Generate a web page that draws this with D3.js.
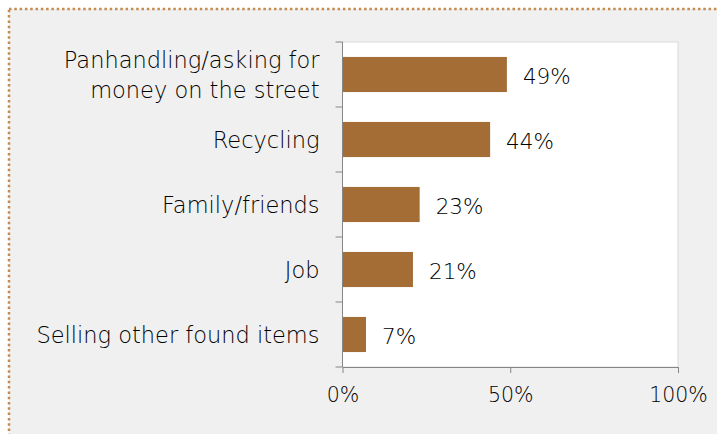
<!DOCTYPE html>
<html>
<head>
<meta charset="utf-8">
<script src="https://cdn.jsdelivr.net/npm/d3@7"></script>
<style>
  html, body { margin: 0; padding: 0; background: #fff; overflow: hidden; }
  svg { display: block; font-family: 'DejaVu Sans', sans-serif; font-weight: 300; }
</style>
</head>
<body>
<div class="chart"></div>
<script>
// chart data
const categories = [
  ['Panhandling/asking for', 'money on the street'],
  ['Recycling'],
  ['Family/friends'],
  ['Job'],
  ['Selling other found items']
];
const values = [49, 44, 23, 21, 7];
const ticks = [0, 50, 100];

// svg parameters
const w = 717;
const h = 434;
const plot = { left: 342.5, right: 678, top: 42, bottom: 367 };
const textColor = '#000';

const svg = d3.select('.chart')
  .append('svg')
  .attr('width', w)
  .attr('height', h);

// outer frame (right and bottom edges fall outside the picture)
svg.append('rect')
  .attr('x', 9).attr('y', 9)
  .attr('width', w + 60).attr('height', h + 60)
  .attr('fill', '#f0f0f0')
  .attr('stroke', '#c48a4f')
  .attr('stroke-width', 2.5)
  .attr('stroke-dasharray', '2.5 2.8');

// plot area
svg.append('rect')
  .attr('x', plot.left).attr('y', plot.top)
  .attr('width', plot.right - plot.left)
  .attr('height', plot.bottom - plot.top)
  .attr('fill', '#fff')
  .attr('stroke', '#d9d9d9')
  .attr('stroke-width', 1);

// scales
const xScale = d3.scaleLinear([0, 100], [plot.left, plot.right]);
const yScale = d3.scaleBand(d3.range(categories.length), [plot.top, plot.bottom])
  .paddingInner(0.46).paddingOuter(0.23);

// bars
svg.selectAll('rect.bar')
  .data(values)
  .enter()
  .append('rect')
  .attr('class', 'bar')
  .attr('x', xScale(0))
  .attr('y', (d, i) => yScale(i))
  .attr('width', (d) => xScale(d) - xScale(0))
  .attr('height', yScale.bandwidth())
  .attr('fill', '#a36d35');

// value labels
svg.selectAll('text.value')
  .data(values)
  .enter()
  .append('text')
  .attr('class', 'value')
  .attr('x', (d) => xScale(d) + 16)
  .attr('y', (d, i) => yScale(i) + yScale.bandwidth() / 2)
  .attr('dy', '0.42em')
  .attr('font-size', 21.5)
  .attr('fill', textColor)
  .text((d) => `${d}%`);

// x axis
const xAxis = d3.axisBottom(xScale)
  .tickValues(ticks)
  .tickSize(6)
  .tickSizeOuter(0)
  .tickPadding(14)
  .tickFormat((d) => `${d}%`);
const gx = svg.append('g')
  .attr('transform', `translate(0, ${plot.bottom})`)
  .call(xAxis);
gx.attr('font-family', null).attr('font-size', null);
gx.select('.domain').attr('stroke', '#868686');
gx.selectAll('.tick line').attr('stroke', '#868686');
gx.selectAll('.tick text')
  .attr('font-size', 20.5)
  .attr('fill', textColor);

// y axis: tick marks at band boundaries
const bounds = d3.range(categories.length + 1).map((i) => plot.top + i * yScale.step());
const gy = svg.append('g');
gy.append('line')
  .attr('x1', plot.left).attr('x2', plot.left)
  .attr('y1', plot.top).attr('y2', plot.bottom)
  .attr('stroke', '#868686');
gy.selectAll('line.tick')
  .data(bounds)
  .enter()
  .append('line')
  .attr('class', 'tick')
  .attr('x1', plot.left - 7).attr('x2', plot.left)
  .attr('y1', (d) => d).attr('y2', (d) => d)
  .attr('stroke', '#868686');

// category labels
const labels = svg.selectAll('text.cat')
  .data(categories)
  .enter()
  .append('text')
  .attr('class', 'cat')
  .attr('text-anchor', 'end')
  .attr('font-size', 22.5)
  .attr('fill', textColor)
  .attr('y', (d, i) => yScale(i) + yScale.bandwidth() / 2);

labels.selectAll('tspan')
  .data((d) => d.map((t, j) => ({ t, j, n: d.length })))
  .enter()
  .append('tspan')
  .attr('x', 319.5)
  .attr('dy', (d) => (d.j === 0 ? `${0.39 - (d.n - 1) * 0.68}em` : '1.34em'))
  .text((d) => d.t);
</script>
</body>
</html>
